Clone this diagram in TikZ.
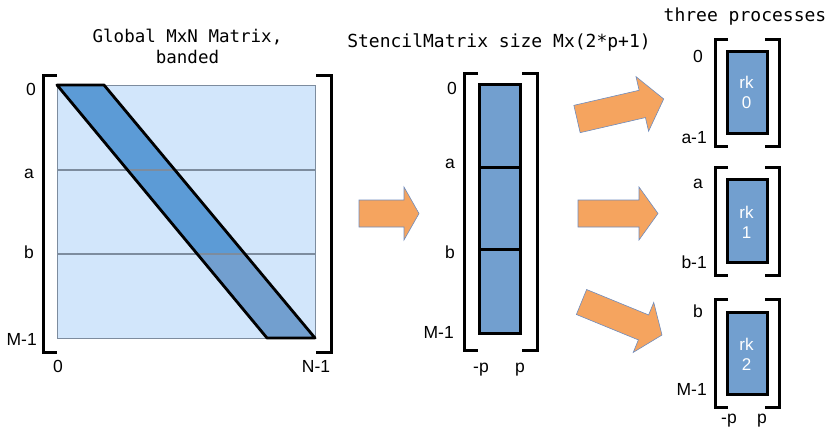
\documentclass[tikz,border=0pt]{standalone}
\usepackage{fontspec}
\setmainfont{Liberation Sans}
\setmonofont{DejaVu Sans Mono}
\definecolor{bglight}{RGB}{210,230,251}
\definecolor{banddark}{RGB}{92,155,214}
\definecolor{bandmid}{RGB}{114,159,207}
\definecolor{gridgray}{RGB}{125,140,158}
\definecolor{arroworange}{RGB}{245,164,95}
\definecolor{arrowedge}{RGB}{110,140,190}
\tikzset{
  brk/.style={line width=3pt, line cap=butt},
  thickline/.style={line width=2.8pt, line join=round},
  lab/.style={font=\fontsize{17.5}{20}\selectfont, inner sep=0pt},
  wlab/.style={font=\fontsize{17}{20}\selectfont, inner sep=0pt, text=white},
  ttl/.style={font=\ttfamily\fontsize{18}{22}\selectfont, inner sep=0pt},
  blockarrowsty/.style={fill=arroworange, draw=arrowedge, line width=0.6pt, line join=miter},
  cellbox/.style={draw, line width=3pt, fill=bandmid},
}
\newcommand\myblockarrow[7]{% tailx taily angle length headlen shafthalf headhalf
  \begin{scope}[shift={(#1,#2)},rotate=#3]
    \draw[blockarrowsty] (0,-#6) -- ({#4-#5},-#6) -- ({#4-#5},-#7) -- (#4,0)
      -- ({#4-#5},#7) -- ({#4-#5},#6) -- (0,#6) -- cycle;
  \end{scope}}
\begin{document}
\begin{tikzpicture}[x=1pt,y=-1pt]
\useasboundingbox (0,0) rectangle (828,431);

% ---------- titles ----------
\node[ttl, anchor=base, font=\ttfamily\fontsize{17.5}{22}\selectfont] (t1a) at (187.5,42) {Global MxN Matrix,};
\node[ttl, anchor=base, font=\ttfamily\fontsize{17.5}{22}\selectfont] (t1b) at (187.5,63) {banded};
\node[ttl, anchor=base] (t2) at (499,47) {StencilMatrix size Mx(2*p+1)};
\node[ttl, anchor=base] (t3) at (745,21) {three processes};

% ---------- global matrix ----------
\fill[bglight] (57,85) rectangle (315,338);
\begin{scope}
  \clip (0,0) rectangle (828,254);
  \fill[banddark] (57,85) -- (104,85) -- (315,338) -- (267,338) -- cycle;
\end{scope}
\begin{scope}
  \clip (0,254) rectangle (828,431);
  \fill[bandmid] (57,85) -- (104,85) -- (315,338) -- (267,338) -- cycle;
\end{scope}
\draw[gridgray, line width=1pt] (57,85) rectangle (315,338);
\draw[gridgray, line width=1.2pt] (57,170) -- (315,170);
\draw[gridgray, line width=1.2pt] (57,254) -- (315,254);
\draw[thickline] (57,85) -- (104,85) -- (315,338) -- (267,338) -- cycle;
\node (gm) at (186,211.5) [minimum width=258pt, minimum height=253pt, inner sep=0pt] {};

\draw[brk] (57,75) -- (43,75) -- (43,352) -- (57,352);
\draw[brk] (316,75) -- (331,75) -- (331,352) -- (316,352);

\node[lab, anchor=base east] (g0) at (36,95) {0};
\node[lab, anchor=base east] (ga) at (34,178) {a};
\node[lab, anchor=base east] (gb) at (34,258) {b};
\node[lab, anchor=base east] (gM) at (37,345) {M-1};
\node[lab, anchor=base] (gc0) at (58,372) {0};
\node[lab, anchor=base] (gcN) at (316,372) {N-1};

% ---------- stencil matrix ----------
\draw[cellbox] (479,84) rectangle (520,333);
\draw[line width=3pt] (479,167) -- (520,167);
\draw[line width=3pt] (479,249) -- (520,249);
\node (sm) at (499.5,208.5) [minimum width=41pt, minimum height=249pt, inner sep=0pt] {};
\draw[brk] (478,73) -- (464,73) -- (464,350) -- (478,350);
\draw[brk] (522,73) -- (537,73) -- (537,350) -- (522,350);

\node[lab, anchor=base east] (s0) at (457,94) {0};
\node[lab, anchor=base east] (sa) at (455,168) {a};
\node[lab, anchor=base east] (sb) at (455,258) {b};
\node[lab, anchor=base east] (sM) at (454,338) {M-1};
\node[lab, anchor=base] (sp1) at (481,372) {-p};
\node[lab, anchor=base] (sp2) at (520,372) {p};

% ---------- three process blocks ----------
\draw[cellbox] (727,51) rectangle (767,133);
\node[wlab, anchor=base] (rk0a) at (746.5,88) {rk};
\node[wlab, anchor=base] (rk0b) at (746.5,108) {0};
\draw[brk] (728,39) -- (715,39) -- (715,146) -- (728,146);
\draw[brk] (765,39) -- (779,39) -- (779,146) -- (765,146);
\node[lab, anchor=base east] (p0t) at (703,62) {0};
\node[lab, anchor=base east] (p0b) at (707,143) {a-1};

\draw[cellbox] (727,179) rectangle (767,262);
\node[wlab, anchor=base] (rk1a) at (746.5,218) {rk};
\node[wlab, anchor=base] (rk1b) at (746.5,238) {1};
\draw[brk] (728,167) -- (715,167) -- (715,275) -- (728,275);
\draw[brk] (765,167) -- (779,167) -- (779,275) -- (765,275);
\node[lab, anchor=base east] (p1t) at (703,188) {a};
\node[lab, anchor=base east] (p1b) at (707,268) {b-1};

\draw[cellbox] (727,312) rectangle (767,394);
\node[wlab, anchor=base] (rk2a) at (746.5,350) {rk};
\node[wlab, anchor=base] (rk2b) at (746.5,370) {2};
\draw[brk] (728,299) -- (715,299) -- (715,407) -- (728,407);
\draw[brk] (765,299) -- (779,299) -- (779,407) -- (765,407);
\node[lab, anchor=base east] (p2t) at (703,317) {b};
\node[lab, anchor=base east] (p2b) at (707,395) {M-1};
\node[lab, anchor=base] (pp1) at (729,423) {-p};
\node[lab, anchor=base] (pp2) at (762,423) {p};

% ---------- block arrows ----------
\myblockarrow{359}{213.5}{0}{60}{15}{13.5}{26.5}
\myblockarrow{577}{119}{13}{89}{22}{14}{28}
\myblockarrow{578}{213.5}{0}{80}{19}{13.5}{26.5}
\myblockarrow{581.5}{302}{-22.3}{87}{20}{13.5}{27}
\end{tikzpicture}
\end{document}
